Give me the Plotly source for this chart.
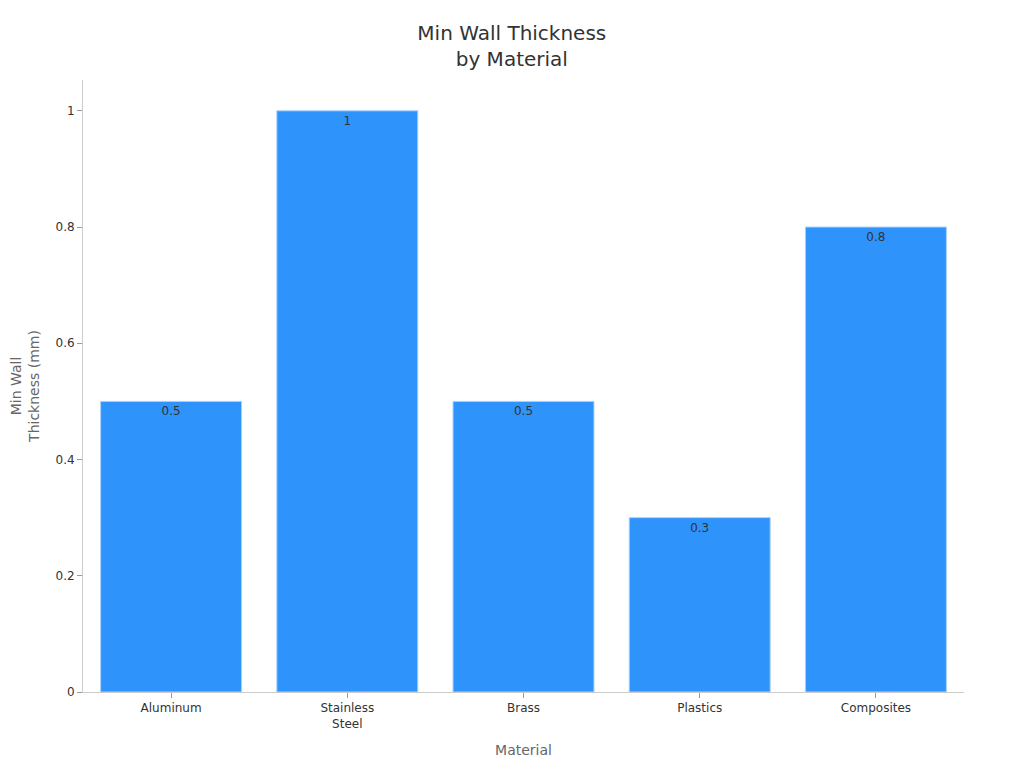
import plotly.graph_objects as go

# chart data
materials = ["Aluminum", "Stainless<br>Steel", "Brass", "Plastics", "Composites"]
min_wall_mm = [0.5, 1.0, 0.5, 0.3, 0.8]

fig = go.Figure()
fig.add_trace(go.Bar(
    x=materials,
    y=min_wall_mm,
    text=[f"{v:g}" for v in min_wall_mm],
    textposition="inside",
    insidetextanchor="end",
    textfont=dict(color="#333333", size=12),
    marker=dict(color="#2E93FA", line=dict(color="#A8D1FD", width=1)),
))

fig.update_layout(
    width=1024,
    height=768,
    font=dict(family="DejaVu Sans", color="#333333"),
    title=dict(text="Min Wall Thickness<br>by Material", x=0.492, y=0.958,
               xanchor="center", font=dict(size=20, color="#333333")),
    plot_bgcolor="white",
    paper_bgcolor="white",
    margin=dict(l=75, r=68, t=72, b=84),
    bargap=0.2,
    showlegend=False,
)
fig.update_xaxes(
    title=dict(text="Material", font=dict(size=14, color="#666666")),
    showline=True, linecolor="#cccccc", ticks="outside", tickcolor="#999999",
    ticklen=5, tickfont=dict(size=12, color="#333333"), showgrid=False,
)
fig.update_yaxes(
    title=dict(text="Min Wall<br>Thickness (mm)", font=dict(size=14, color="#666666")),
    automargin=False,
    range=[0, 1.053], dtick=0.2, showline=True, linecolor="#cccccc",
    ticks="outside", tickcolor="#999999", ticklen=5,
    tickfont=dict(size=12, color="#333333"), showgrid=False, zeroline=False,
)

fig.write_html("out.html")
